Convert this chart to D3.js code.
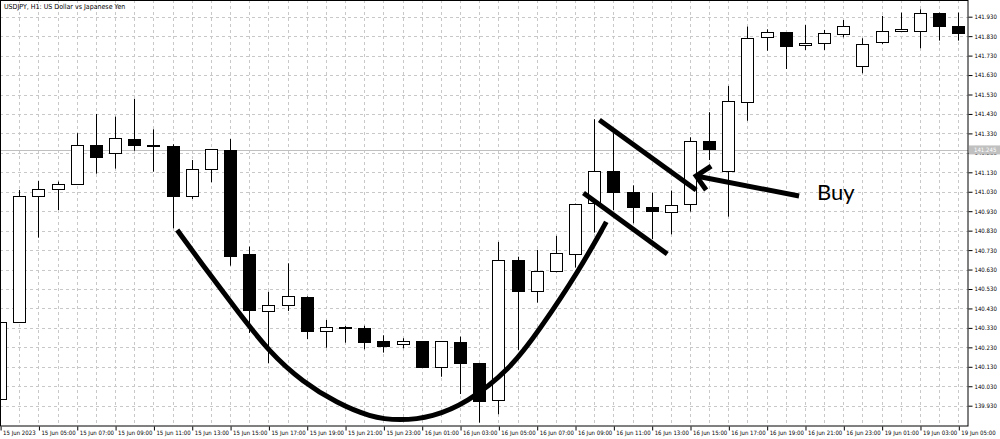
<!DOCTYPE html>
<html>
<head>
<meta charset="utf-8">
<script src="https://cdn.jsdelivr.net/npm/d3@7"></script>
<style>
  body { margin: 0; background: #fff; }
  svg { display: block; }
  .axis text { font-family: "Liberation Sans Narrow", "DejaVu Sans Condensed", "Liberation Sans", sans-serif; font-size: 6px; fill: #000; }
</style>
</head>
<body>
<svg id="chart" width="1000" height="439"></svg>
<script>
const width = 1000;
const height = 439;

// hourly candles, USDJPY H1
const times = [
  "15 Jun 03:00","15 Jun 04:00","15 Jun 05:00","15 Jun 06:00","15 Jun 07:00","15 Jun 08:00","15 Jun 09:00",
  "15 Jun 10:00","15 Jun 11:00","15 Jun 12:00","15 Jun 13:00","15 Jun 14:00","15 Jun 15:00","15 Jun 16:00",
  "15 Jun 17:00","15 Jun 18:00","15 Jun 19:00","15 Jun 20:00","15 Jun 21:00","15 Jun 22:00","15 Jun 23:00",
  "16 Jun 00:00","16 Jun 01:00","16 Jun 02:00","16 Jun 03:00","16 Jun 04:00","16 Jun 05:00","16 Jun 06:00",
  "16 Jun 07:00","16 Jun 08:00","16 Jun 09:00","16 Jun 10:00","16 Jun 11:00","16 Jun 12:00","16 Jun 13:00",
  "16 Jun 14:00","16 Jun 15:00","16 Jun 16:00","16 Jun 17:00","16 Jun 18:00","16 Jun 19:00","16 Jun 20:00",
  "16 Jun 21:00","16 Jun 22:00","16 Jun 23:00","19 Jun 00:00","19 Jun 01:00","19 Jun 02:00","19 Jun 03:00",
  "19 Jun 04:00","19 Jun 05:00"
];
const firstLabel = "15 Jun 2023";

const open = [139.965,140.360,141.010,141.046,141.070,141.269,141.228,141.300,141.270,141.267,
  141.008,141.147,141.245,140.708,140.419,140.448,140.489,140.313,140.333,140.331,
  140.261,140.246,140.261,140.129,140.258,140.150,139.956,140.678,140.523,140.624,
  140.714,140.969,141.138,141.029,140.953,140.930,140.967,141.289,141.137,141.495,
  141.824,141.851,141.781,141.793,141.845,141.675,141.796,141.855,141.860,141.951,141.884];
const high = [140.360,141.039,141.085,141.082,141.331,141.430,141.416,141.507,141.351,141.274,
  141.193,141.248,141.301,140.748,140.516,140.662,140.492,140.371,140.340,140.341,
  140.292,140.277,140.261,140.261,140.285,140.150,140.772,140.696,140.731,140.803,
  140.969,141.403,141.331,141.063,141.025,141.036,141.310,141.439,141.574,141.879,
  141.865,141.851,141.887,141.862,141.913,141.819,141.934,141.951,141.968,141.951,141.951];
const low = [139.965,140.360,140.794,140.936,141.070,141.123,141.149,141.241,141.133,140.842,
  140.993,141.079,140.650,140.304,140.148,140.417,140.272,140.228,140.254,140.220,
  140.203,140.225,140.129,140.079,139.990,139.843,139.886,140.217,140.460,140.616,
  140.640,140.820,140.936,140.868,140.786,140.811,140.928,141.193,140.902,141.395,
  141.755,141.661,141.759,141.759,141.824,141.639,141.790,141.855,141.768,141.807,141.807];
const close = [140.360,141.008,141.046,141.070,141.269,141.209,141.306,141.267,141.265,141.008,
  141.147,141.248,140.701,140.421,140.448,140.494,140.313,140.333,140.332,140.259,
  140.233,140.261,140.129,140.261,140.150,139.956,140.678,140.521,140.624,140.714,
  140.969,141.135,141.029,140.953,140.933,140.964,141.289,141.250,141.495,141.822,
  141.851,141.781,141.793,141.845,141.884,141.788,141.855,141.865,141.951,141.882,141.848];

const yTicks = [141.93,141.83,141.73,141.63,141.53,141.43,141.33,141.23,141.13,141.03,140.93,
  140.83,140.73,140.63,140.53,140.43,140.33,140.23,140.13,140.03,139.93];
const lastPrice = 141.245;
const title = "USDJPY, H1: US Dollar vs Japanese Yen";

// hand drawn annotations, in (candle index, price)
const bowlIdx   = [9.19, 10.44, 12.21, 14.03, 15.75, 17.52, 19.24, 20.80, 22.52, 24.29, 26.53, 28.09, 30.18, 31.58];
const bowlPrice = [140.833,140.664,140.432,140.201,140.052,139.944,139.872,139.852,139.872,139.944,140.114,140.319,140.628,140.875];
const upperIdx = [31.22, 36.27];
const upperPrice = [141.399, 141.039];
const lowerIdx = [30.39, 34.76];
const lowerPrice = [141.024, 140.710];
const arrowIdx = [41.64, 36.27];
const arrowPrice = [141.008, 141.111];
const headIdx = [37.05, 36.27, 36.79];
const headPrice = [141.162, 141.111, 141.039];
const buyText = "Buy";
const buyIdx = 42.57;
const buyPrice = 140.988;

const plotRight = 968;
const plotBottom = 426;

const svg = d3.select("#chart");

const x = d3.scaleLinear()
    .domain([0, times.length - 1])
    .range([1.1, 959.3]);

const y = d3.scaleLinear()
    .domain([139.93, 141.93])
    .range([405.7, 16.7]);

svg.append("defs").append("clipPath")
    .attr("id", "plot")
    .append("rect")
    .attr("x", 0).attr("y", 0)
    .attr("width", plotRight).attr("height", plotBottom);

const grid = svg.append("g").attr("stroke", "#c8c8c8").attr("stroke-dasharray", "3,3");

// horizontal grid
grid.selectAll(".hg")
    .data(yTicks)
    .enter()
    .append("line")
    .attr("x1", 0)
    .attr("x2", plotRight)
    .attr("y1", d => Math.round(y(d)) + 0.5)
    .attr("y2", d => Math.round(y(d)) + 0.5);

// vertical grid, one per candle
grid.selectAll(".vg")
    .data(d3.range(times.length))
    .enter()
    .append("line")
    .attr("x1", i => Math.round(x(i)) - 0.5)
    .attr("x2", i => Math.round(x(i)) - 0.5)
    .attr("y1", 0)
    .attr("y2", plotBottom);

// current price line
svg.append("line")
    .attr("x1", 0).attr("x2", plotRight)
    .attr("y1", Math.round(y(lastPrice)) + 0.5)
    .attr("y2", Math.round(y(lastPrice)) + 0.5)
    .attr("stroke", "#c0c0c0");

const candles = d3.range(times.length).map(i => ({
  i: i, o: open[i], h: high[i], l: low[i], c: close[i]
}));

const cg = svg.append("g").attr("clip-path", "url(#plot)");

// wicks
cg.selectAll(".wick")
    .data(candles)
    .enter()
    .append("line")
    .attr("x1", d => Math.round(x(d.i)) - 0.5)
    .attr("x2", d => Math.round(x(d.i)) - 0.5)
    .attr("y1", d => y(d.h))
    .attr("y2", d => y(d.l))
    .attr("stroke", "#000");

// bodies
cg.selectAll(".body")
    .data(candles)
    .enter()
    .append("rect")
    .attr("x", d => Math.round(x(d.i)) - 6.5)
    .attr("width", 12)
    .attr("y", d => Math.round(y(Math.max(d.o, d.c))) + 0.5)
    .attr("height", d => Math.max(1, Math.round(Math.abs(y(d.o) - y(d.c)))))
    .attr("fill", d => d.c >= d.o ? "#fff" : "#000")
    .attr("stroke", "#000")
    .attr("stroke-width", 1);

// frame
svg.append("rect")
    .attr("x", 0.5).attr("y", 0.5)
    .attr("width", plotRight - 0.5).attr("height", plotBottom - 0.5)
    .attr("fill", "none")
    .attr("stroke", "#000");

// axes
const yAxis = d3.axisRight(y)
    .tickValues(yTicks)
    .tickSize(4)
    .tickPadding(2)
    .tickFormat(d3.format(".3f"));

svg.append("g")
    .attr("class", "axis")
    .attr("transform", `translate(${plotRight + 0.5},0)`)
    .call(yAxis)
    .call(g => g.select(".domain").remove());

const xAxis = d3.axisBottom(x)
    .tickValues(d3.range(0, times.length, 2))
    .tickSize(4)
    .tickPadding(0)
    .tickFormat(i => i === 0 ? firstLabel : times[i]);

svg.append("g")
    .attr("class", "axis")
    .attr("transform", `translate(-0.5,${plotBottom + 0.5})`)
    .call(xAxis)
    .call(g => g.select(".domain").remove())
    .call(g => g.selectAll("text").attr("text-anchor", "start").attr("x", 2));

// price tag
svg.append("rect")
    .attr("x", plotRight + 1)
    .attr("y", y(lastPrice) - 4.5)
    .attr("width", 31)
    .attr("height", 9)
    .attr("fill", "#c0c0c0");

svg.append("text")
    .attr("x", plotRight + 6)
    .attr("y", y(lastPrice))
    .attr("dy", "0.32em")
    .style("font-family", "\"Liberation Sans Narrow\", \"DejaVu Sans Condensed\", sans-serif")
    .style("font-size", "6px")
    .attr("fill", "#fff")
    .text(d3.format(".3f")(lastPrice));

// title
svg.append("text")
    .attr("x", 4)
    .attr("y", 9)
    .style("font-family", "\"Liberation Sans Narrow\", \"DejaVu Sans Condensed\", sans-serif")
    .style("font-size", "7px")
    .text(title);

// annotations
const line = d3.line()
    .x(d => x(d[0]))
    .y(d => y(d[1]));

const ann = svg.append("g")
    .attr("fill", "none")
    .attr("stroke", "#000")
    .attr("stroke-width", 5);

ann.append("path")
    .attr("d", line.curve(d3.curveBasis)(d3.zip(bowlIdx, bowlPrice)));

line.curve(d3.curveLinear);

ann.append("path").attr("d", line(d3.zip(upperIdx, upperPrice)));
ann.append("path").attr("d", line(d3.zip(lowerIdx, lowerPrice)));
ann.append("path").attr("d", line(d3.zip(arrowIdx, arrowPrice)));
ann.append("path")
    .attr("stroke-linejoin", "miter")
    .attr("d", line(d3.zip(headIdx, headPrice)));

svg.append("text")
    .attr("x", x(buyIdx))
    .attr("y", y(buyPrice))
    .style("font-family", "Lato, \"Open Sans\", sans-serif")
    .style("font-size", "22px")
    .attr("fill", "#000")
    .text(buyText);
</script>
</body>
</html>
